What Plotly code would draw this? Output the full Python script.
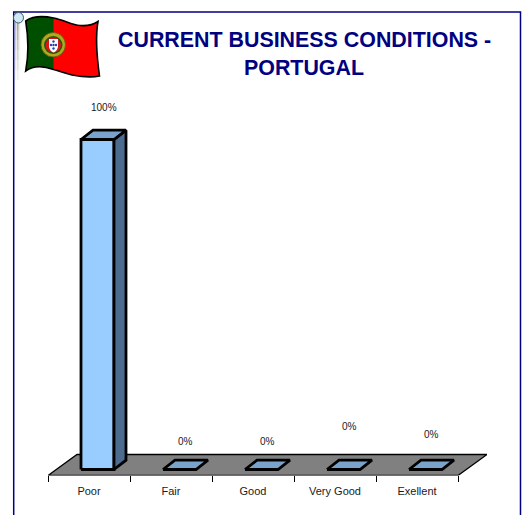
import plotly.graph_objects as go

# ---- data ----
categories = ["Poor", "Fair", "Good", "Very Good", "Exellent"]
values = [100, 0, 0, 0, 0]
labels = ["100%", "0%", "0%", "0%", "0%"]
label_rise_px = [23, 19, 19, 34, 26]
title_lines = ["CURRENT BUSINESS CONDITIONS -", "PORTUGAL"]

W, H = 522, 515
X0, X1 = 48, 458          # floor front edge left/right px
FLOOR_DX = 29             # floor depth px
Y_FLOOR = 475.5           # floor front edge px
PX_PER_PCT = 3.3
PX_PER_CAT = (X1 - X0) / 5
BASE_GAP = 6              # px between floor front edge and bar base
Y_MIN = -BASE_GAP / PX_PER_PCT
Y_MAX = 110.0
plot_h = (Y_MAX - Y_MIN) * PX_PER_PCT

NAVY = "#000080"
dx = 12 / PX_PER_CAT
dy = 9.3 / PX_PER_PCT
half = 16.5 / PX_PER_CAT
shift = 8.5 / PX_PER_CAT
LW = 2.8
TEXT = "#1a1a1a"
FONT = "Liberation Sans, Arial"

fig = go.Figure()

# floor
fx0, fx1 = -0.5, 4.5
fdx = FLOOR_DX / PX_PER_CAT
fdy = 21 / PX_PER_PCT
fig.add_trace(go.Scatter(
    x=[fx0, fx1, fx1 + fdx, fx0 + fdx, fx0],
    y=[Y_MIN, Y_MIN, Y_MIN + fdy, Y_MIN + fdy, Y_MIN],
    mode="lines", fill="toself", fillcolor="#808080",
    line=dict(color="black", width=1.3), cliponaxis=False, hoverinfo="skip"))

for i, v in enumerate(values):
    l = i + shift - half
    r = i + shift + half
    if v > 0:
        fig.add_trace(go.Scatter(
            x=[l, r, r, l, l], y=[0, 0, v, v, 0], mode="lines", fill="toself",
            fillcolor="#99CCFF", line=dict(color="black", width=LW),
            cliponaxis=False, hoverinfo="skip"))
        fig.add_trace(go.Scatter(
            x=[r, r + dx, r + dx, r, r], y=[0, dy, v + dy, v, 0], mode="lines",
            fill="toself", fillcolor="#4D6B8F", line=dict(color="black", width=LW),
            cliponaxis=False, hoverinfo="skip"))
    fig.add_trace(go.Scatter(
        x=[l, r, r + dx, l + dx, l], y=[v, v, v + dy, v + dy, v], mode="lines",
        fill="toself", fillcolor="#7AA3CC", line=dict(color="black", width=LW),
        cliponaxis=False, hoverinfo="skip"))

for i, (v, t, rise) in enumerate(zip(values, labels, label_rise_px)):
    fig.add_annotation(x=i + shift + dx / 2, y=v + dy, text=t, showarrow=False,
                       yshift=rise, xanchor="center", yanchor="middle",
                       font=dict(family=FONT, size=10, color=TEXT))

# title, one annotation per line (line pitch is wider than the default)
for t, ypx in zip(title_lines, [40, 68]):
    fig.add_annotation(xref="paper", yref="paper", x=304 / W, y=1 - ypx / H,
                       text=t, showarrow=False, xanchor="center", yanchor="middle",
                       font=dict(family=FONT, size=21.4, color=NAVY, weight="bold"))

shapes = []
def px_path(points, close=True, **kw):
    d = ""
    for seg in points:
        d += seg[0] + " ".join(f"{a / W:.5f},{1 - b / H:.5f}" for a, b in seg[1]) + " "
    if close:
        d += "Z"
    shapes.append(dict(type="path", xref="paper", yref="paper", path=d, layer="above", **kw))

def px_circle(x0, y0, x1, y1, **kw):
    shapes.append(dict(type="circle", xref="paper", yref="paper", x0=x0 / W, x1=x1 / W,
                       y0=1 - y1 / H, y1=1 - y0 / H, layer="above", **kw))

# frame
px_path([("M", [(13.7, 530)]), ("L", [(13.7, 12)]), ("L", [(520.5, 12)]), ("L", [(520.5, 530)])],
        close=False, line=dict(color=NAVY, width=1.5))

# flag pole, fading downward
for x, shade in zip([15.5, 16.5, 17.5, 18.5, 19.5, 20.5], [190, 225, 170, 200, 235, 250]):
    for k in range(6):
        y0 = 20 + k * 10
        c = int(shade + (255 - shade) * k / 6)
        px_path([("M", [(x, y0)]), ("L", [(x, y0 + 10)])], close=False,
                line=dict(color=f"rgb({c},{c},{c})", width=1))
# finial
px_circle(13.5, 12.5, 23.5, 23, fillcolor="#cfe8f5", line=dict(color="#3d5a6a", width=1))

# flag
top_left = (25.7, 21)
flag_d = [("M", [top_left]),
          ("C", [(33, 16), (44, 16), (53.5, 18)]),
          ("C", [(64, 20), (72, 25), (80, 25.5)]),
          ("C", [(87, 26), (93, 25), (98, 21.5)]),
          ("C", [(95, 38), (97, 58), (99.5, 76)]),
          ("C", [(90, 78), (80, 76.5), (72, 75)]),
          ("C", [(64, 73), (59, 71), (53.5, 69.5)]),
          ("C", [(44, 66), (34, 65), (25.7, 71)]),
          ("C", [(28.5, 56), (28.5, 38), top_left])]
px_path(flag_d, fillcolor="#FF0000", line=dict(width=0))
green_d = [("M", [top_left]),
           ("C", [(33, 16), (44, 16), (53.5, 18)]),
           ("L", [(53.5, 69.5)]),
           ("C", [(44, 66), (34, 65), (25.7, 71)]),
           ("C", [(28.5, 56), (28.5, 38), top_left])]
px_path(green_d, fillcolor="#004F00", line=dict(width=0))
px_path(flag_d, fillcolor="rgba(0,0,0,0)", line=dict(color="black", width=1.6))
# coat of arms
px_circle(41, 32.5, 65.5, 57, fillcolor="#B0A820", line=dict(color="#5a5a10", width=0.8))
px_circle(44, 36, 62.5, 54, fillcolor="#1e5a10", line=dict(width=0))
px_circle(45.5, 37.5, 61, 52.5, fillcolor="#D81818", line=dict(width=0))
px_path([("M", [(49, 39)]), ("L", [(58, 39)]), ("L", [(58, 47)]),
         ("C", [(57, 51), (55, 52), (53.5, 52.5)]), ("C", [(52, 52), (50, 51), (49, 47)])],
        fillcolor="#FFFFFF", line=dict(width=0))
for cx, cy in [(53.5, 41.5), (51, 45), (53.5, 45), (56, 45), (53.5, 48.5)]:
    px_circle(cx - 1.2, cy - 1.2, cx + 1.2, cy + 1.2, fillcolor="#2244AA", line=dict(width=0))

x_max = 4.5 + fdx
fig.update_layout(
    width=W, height=H, showlegend=False,
    margin=dict(l=0, r=0, t=0, b=0),
    paper_bgcolor="white", plot_bgcolor="rgba(0,0,0,0)",
    shapes=shapes,
    xaxis=dict(
        domain=[X0 / W, (X1 + FLOOR_DX) / W], range=[-0.5, x_max],
        anchor="free", position=1 - (Y_FLOOR - 1) / H,
        tickmode="array", tickvals=list(range(len(categories))), ticktext=categories,
        ticks="", showgrid=False, zeroline=False, showline=False,
        tickfont=dict(family=FONT, size=11, color=TEXT),
        ticklabelstandoff=8,
        minor=dict(tickmode="array", tickvals=[i - 0.5 for i in range(len(categories) + 1)],
                   ticks="outside", ticklen=6, tickcolor="black", tickwidth=1, showgrid=False),
    ),
    yaxis=dict(
        domain=[1 - Y_FLOOR / H, 1 - (Y_FLOOR - plot_h) / H], range=[Y_MIN, Y_MAX],
        visible=False,
    ),
)

fig.write_html("out.html", config=dict(displayModeBar=False),
               post_script="document.body.style.margin='0';document.body.style.overflow='hidden';")
